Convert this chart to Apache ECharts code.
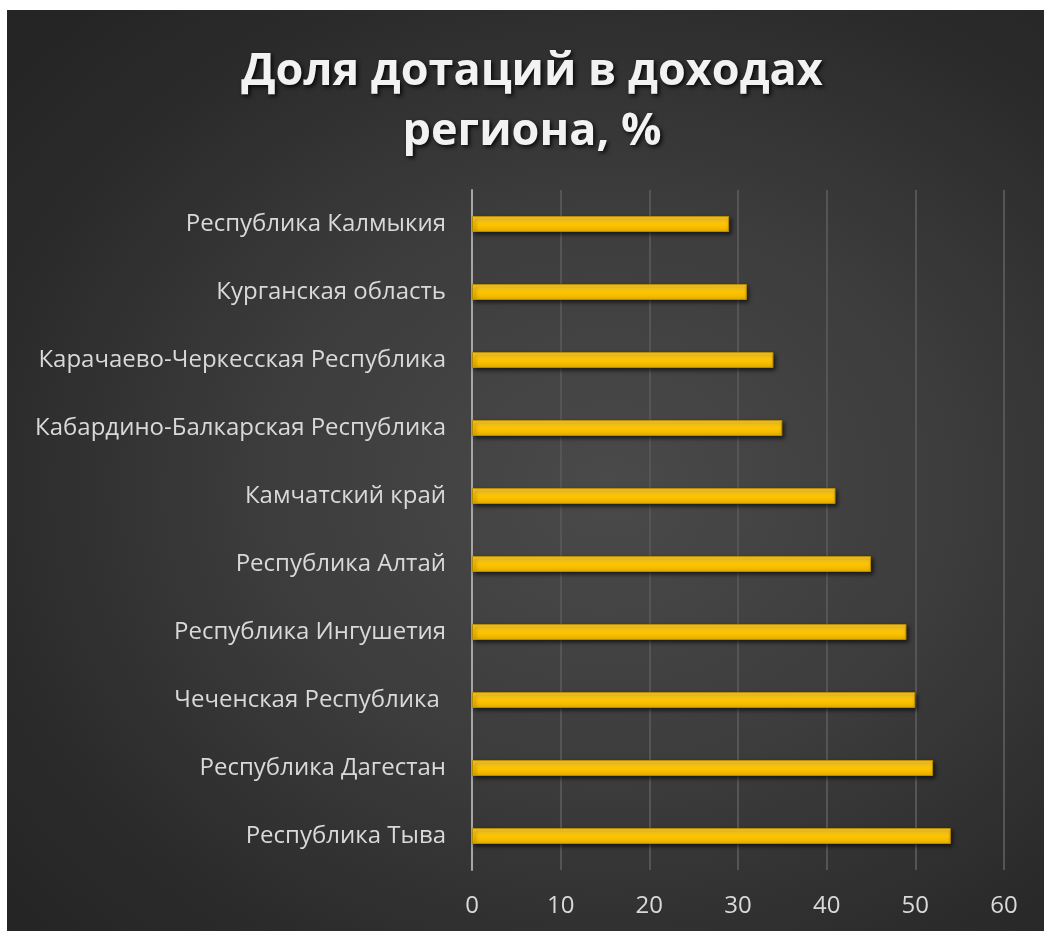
<!DOCTYPE html>
<html>
<head>
<meta charset="utf-8">
<script src="https://cdn.jsdelivr.net/npm/echarts@6/dist/echarts.min.js"></script>
<style>
html,body{margin:0;padding:0;background:#ffffff;}
#bg{position:absolute;left:7px;top:10px;width:1037px;height:921px;
background:radial-gradient(ellipse 75% 70% at 58% 52%, #4a4a4a 0%, #3c3c3c 45%, #2b2b2b 80%, #252525 100%);}
#chart{position:absolute;left:0;top:0;width:1044px;height:931px;}
</style>
</head>
<body>
<div id="bg"></div>
<div id="chart"></div>
<script>
const titleText = 'Доля дотаций в доходах\nрегиона, %';
const categories = [
  'Республика Калмыкия',
  'Курганская область',
  'Карачаево-Черкесская Республика',
  'Кабардино-Балкарская Республика',
  'Камчатский край',
  'Республика Алтай',
  'Республика Ингушетия',
  'Чеченская Республика ',
  'Республика Дагестан',
  'Республика Тыва'
];
const values = [29, 31, 34, 35, 41, 45, 49, 50, 52, 54];
const xTicks = { min: 0, max: 60, interval: 10 };

const chart = echarts.init(document.getElementById('chart'), null, {renderer: 'canvas'});
chart.setOption({
  backgroundColor: 'transparent',
  animation: false,
  title: {
    text: titleText,
    left: 527,
    top: 37,
    textAlign: 'center',
    textStyle: {
      fontFamily: 'Open Sans',
      fontWeight: 'bold',
      fontSize: 45,
      lineHeight: 60,
      color: '#f2f2f2',
      textShadowColor: 'rgba(0,0,0,0.85)',
      textShadowBlur: 4,
      textShadowOffsetX: 2,
      textShadowOffsetY: 2
    }
  },
  grid: { left: 472, right: 40, top: 190, bottom: 61, containLabel: false },
  xAxis: {
    type: 'value',
    min: xTicks.min, max: xTicks.max, interval: xTicks.interval,
    axisLine: { show: false },
    axisTick: { show: false },
    splitLine: { show: true, lineStyle: { color: '#555555', width: 2 } },
    axisLabel: { color: '#d9d9d9', fontSize: 24, fontFamily: 'Open Sans', margin: 24 }
  },
  yAxis: {
    type: 'category',
    inverse: true,
    data: categories,
    axisLine: { show: true, lineStyle: { color: '#a6a6a6', width: 2 } },
    axisTick: { show: false },
    axisLabel: { color: '#d9d9d9', fontSize: 24, fontFamily: 'Open Sans', margin: 26 }
  },
  series: [{
    type: 'bar',
    data: values,
    barWidth: 16,
    itemStyle: {
      color: new echarts.graphic.LinearGradient(0, 0, 0, 1, [
        {offset: 0, color: '#ffd23a'},
        {offset: 0.5, color: '#ffc400'},
        {offset: 1, color: '#eab300'}
      ]),
      borderColor: '#b88c00',
      borderWidth: 1,
      shadowColor: 'rgba(0,0,0,0.6)',
      shadowBlur: 4,
      shadowOffsetX: 2,
      shadowOffsetY: 2
    }
  }]
});
</script>
</body>
</html>
